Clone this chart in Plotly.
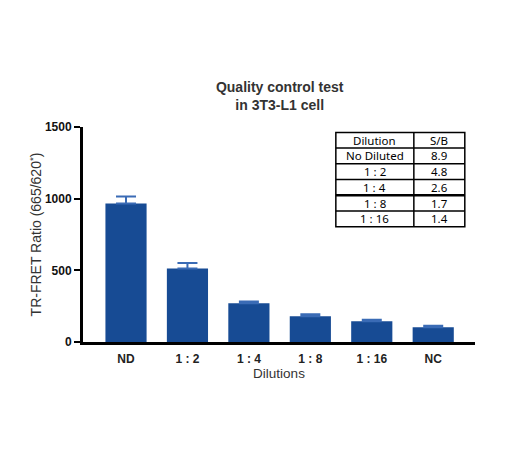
import plotly.graph_objects as go

categories = ["ND", "1 : 2", "1 : 4", "1 : 8", "1 : 16", "NC"]
ratio = [966, 512, 270, 179, 144, 103]
ratio_err = [49, 39, 12, 14, 12, 11]

table_header = ["Dilution", "S/B"]
table_dilution = ["No Diluted", "1 : 2", "1 : 4", "1 : 8", "1 : 16"]
table_sb = ["8.9", "4.8", "2.6", "1.7", "1.4"]

bar_color = "#174b94"
font = "Liberation Sans, Arial, sans-serif"

fig = go.Figure()
fig.add_trace(go.Bar(
    x=list(range(len(categories))),
    y=ratio,
    width=0.67,
    marker=dict(color=bar_color, line=dict(width=0)),
    error_y=dict(type="data", array=ratio_err, arrayminus=[0] * len(ratio_err),
                 symmetric=False, color="#3a6bb5", thickness=2, width=10),
    showlegend=False,
))

# S/B table drawn with shapes and annotations (paper coords)
tx0, tx1, tx2 = 0.645, 0.844, 0.974
ty_top, ty_bot = 0.975, 0.536
rows = [table_header] + [[d, s] for d, s in zip(table_dilution, table_sb)]
rh = (ty_top - ty_bot) / len(rows)
fig.add_shape(type="rect", xref="paper", yref="paper", x0=tx0, x1=tx2, y0=ty_bot, y1=ty_top,
              line=dict(color="black", width=1.5), fillcolor="white", layer="above")
fig.add_shape(type="line", xref="paper", yref="paper", x0=tx1, x1=tx1, y0=ty_bot, y1=ty_top,
              line=dict(color="black", width=1.5))
for i in range(1, len(rows)):
    yy = ty_top - i * rh
    fig.add_shape(type="line", xref="paper", yref="paper", x0=tx0, x1=tx2, y0=yy, y1=yy,
                  line=dict(color="black", width=2.5 if i == 4 else 1.5))
for i, (a, b) in enumerate(rows):
    yc = ty_top - (i + 0.5) * rh
    for xc, txt in (((tx0 + tx1) / 2, a), ((tx1 + tx2) / 2, b)):
        fig.add_annotation(x=xc, y=yc, xref="paper", yref="paper", text=txt, showarrow=False,
                           xanchor="center", yanchor="middle",
                           font=dict(family="Noto Sans, sans-serif", size=11.5, color="#000000"))

fig.update_layout(
    width=506, height=455,
    margin=dict(l=75, r=39, t=119, b=121),
    plot_bgcolor="white", paper_bgcolor="white",
    font=dict(family=font),
    title=dict(text="<b>Quality control test<br>in 3T3-L1 cell</b>", x=0.537, xanchor="center",
               y=0.815, yanchor="middle", font=dict(size=14, color="#333333")),
)
fig.update_xaxes(
    range=[-0.7, 5.68], tickmode="array", tickvals=list(range(len(categories))),
    ticktext=[f"<b>{c}</b>" for c in categories], ticks="outside", ticklen=4,
    tickcolor="rgba(0,0,0,0)",
    showline=True, linecolor="black", linewidth=3, showgrid=False, zeroline=False,
    tickfont=dict(size=12, color="#222222"),
    title=dict(text="Dilutions", font=dict(size=13.5, color="#333333"), standoff=0),
)
fig.update_yaxes(
    range=[0, 1500], tickvals=[0, 500, 1000, 1500],
    ticktext=["<b>0</b>", "<b>500</b>", "<b>1000</b>", "<b>1500</b>"],
    ticks="outside", ticklen=6, tickwidth=2, tickcolor="black",
    showline=True, linecolor="black", linewidth=3, showgrid=False, zeroline=False,
    tickfont=dict(size=12, color="#111111"),
    title=dict(text="TR-FRET Ratio (665/620<sup>*</sup>)", font=dict(size=14, color="#333333"), standoff=0),
)

fig.write_html("out.html")
